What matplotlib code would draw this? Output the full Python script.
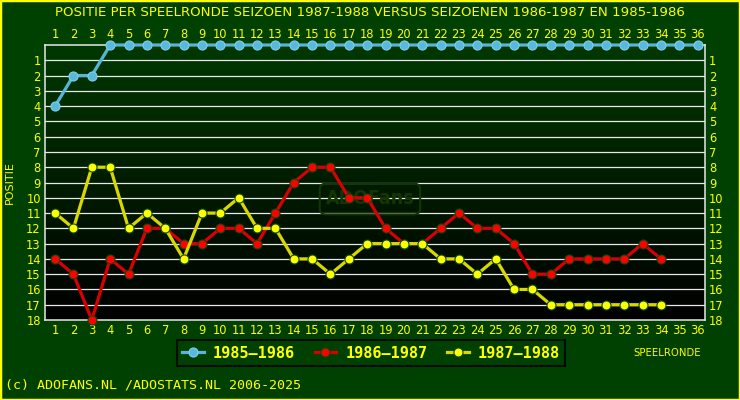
import numpy as np
import matplotlib.pyplot as plt
from matplotlib.patches import Rectangle

rounds = np.arange(1, 37)

# position per round (0 = shown on top edge)
pos_1985 = [4, 2, 2] + [0] * 33
pos_1986 = [14, 15, 18, 14, 15, 12, 12, 13, 13, 12, 12, 13, 11, 9, 8, 8, 10, 10,
            12, 13, 13, 12, 11, 12, 12, 13, 15, 15, 14, 14, 14, 14, 13, 14]
pos_1987 = [11, 12, 8, 8, 12, 11, 12, 14, 11, 11, 10, 12, 12, 14, 14, 15, 14, 13,
            13, 13, 13, 14, 14, 15, 14, 16, 16, 17, 17, 17, 17, 17, 17, 17]

series = [
    ("1985\u20131986", pos_1985, "#58b4d8", "#5ab8dc", "#7fd0ee"),
    ("1986\u20131987", pos_1986, "#d80000", "#ff0000", "#0a4a0a"),
    ("1987\u20131988", pos_1987, "#d8d800", "#ffff00", "#0a4a0a"),
]

title = "POSITIE PER SPEELRONDE SEIZOEN 1987-1988 VERSUS SEIZOENEN 1986-1987 EN 1985-1986"
yellow = "#ffff00"
bg = "#004000"

fig = plt.figure(figsize=(7.4, 4.0), dpi=100, facecolor=bg)
ax = fig.add_axes([45 / 740, 1 - 320 / 400, 660 / 740, 275 / 400])

# gradient background in plot area
grad = np.linspace(0, 1, 256).reshape(-1, 1)
top = np.array([0, 56, 0]) / 255
img = top[None, None, :] * (1 - grad[..., None])
ax.imshow(img, extent=[0.45, 36.4, 18, 0], aspect="auto", zorder=0)

for y in range(1, 18):
    ax.axhline(y, color="#e8e8e8", lw=0.9, zorder=1)

# watermark
ax.text(18.15, 10.08, "ADOFans", fontsize=14, fontweight="bold", color="#143604",
        ha="center", va="center", zorder=1, fontstretch="condensed",
        bbox=dict(boxstyle="round,pad=0.3", fc="none", ec="#133605", lw=1.5))

for name, vals, lc, mc, ec in series:
    x = rounds[:len(vals)]
    ax.plot(x, vals, color=lc, lw=2.3, marker="o", ms=6.5, mfc=mc, mec=ec,
            mew=0.8, label=name, zorder=3, clip_on=False)

ax.set_xlim(0.45, 36.4)
ax.set_ylim(18, 0)
for s in ax.spines.values():
    s.set_color("#e8e8e8")
    s.set_linewidth(1.1)

ax.set_xticks(rounds)
ax.set_yticks(range(1, 19))
ax.tick_params(axis="both", colors=yellow, labelsize=8.3, length=0, pad=3,
               top=True, labeltop=True, right=True, labelright=True)

ax.set_ylabel("POSITIE", color=yellow, fontsize=8)
ax.yaxis.set_label_coords(-0.045, 0.5)

fig.text(0.5, 1 - 12 / 400, title, color=yellow, fontsize=9.6, ha="center", va="center")
fig.text(667 / 740, 1 - 353 / 400, "SPEELRONDE", color=yellow, fontsize=7.3,
         ha="center", va="center")
fig.text(5 / 740, 1 - 385 / 400, "(c) ADOFANS.NL /ADOSTATS.NL 2006-2025",
         color=yellow, fontsize=9.6, family="DejaVu Sans Mono", ha="left", va="center")

leg = fig.legend(loc="center", bbox_to_anchor=(371 / 740, 1 - 353 / 400), ncol=3,
                 frameon=True, facecolor=bg, edgecolor="black", fancybox=False,
                 prop={"family": "DejaVu Sans Mono", "weight": "bold", "size": 11},
                 handlelength=1.4, columnspacing=1.3, handletextpad=0.6,
                 borderpad=0.35, borderaxespad=0)
leg.get_frame().set_linewidth(1.5)
for t in leg.get_texts():
    t.set_color(yellow)

fig.patches.append(Rectangle((0, 0), 1, 1, transform=fig.transFigure, fill=False,
                             ec=yellow, lw=2.5))

fig.savefig("out.png", dpi=100, facecolor=bg)
